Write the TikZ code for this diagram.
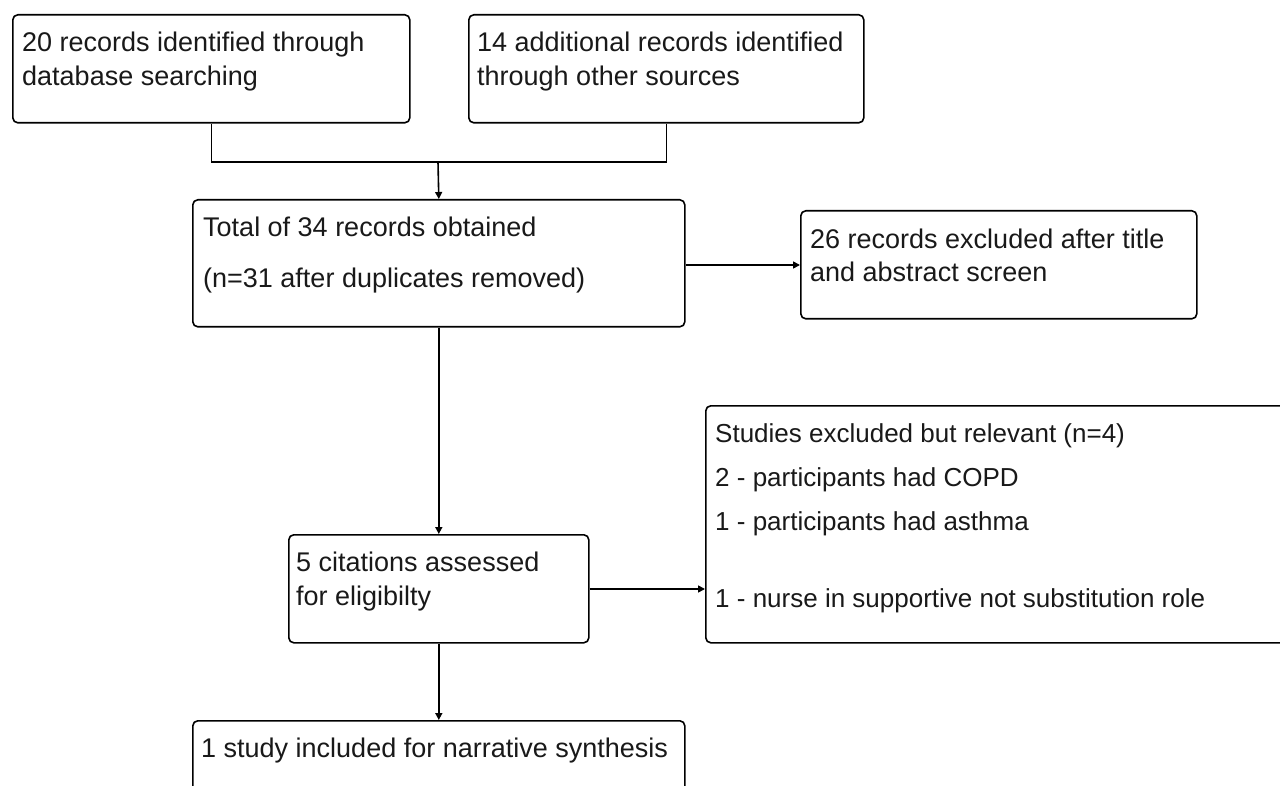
\documentclass[tikz,border=0pt]{standalone}
\usepackage{fontspec}
\setmainfont{Liberation Sans}
\usetikzlibrary{arrows.meta}
\begin{document}
\begin{tikzpicture}[x=1pt,y=-1pt,
  box/.style={draw=black,line width=1.6pt,rounded corners=5pt,inner sep=0pt,anchor=north west},
  txt/.style={anchor=base west,inner sep=0pt,text=black!90,font=\fontsize{27}{32}\selectfont},
  ftxt/.style={anchor=base west,inner sep=0pt,text=black!90,font=\fontsize{26}{32}\selectfont},
  conn/.style={line width=1.6pt},
  arr/.style={conn,-{Triangle[length=7pt,width=7pt]}}]
\useasboundingbox (0,0) rectangle (1280,786);
\clip (0,0) rectangle (1280,786);
\fill[white] (0,0) rectangle (1280,786);
% boxes
\node[box,minimum width=397pt,minimum height=108pt] (A) at (12,14) {};
\node[box,minimum width=395pt,minimum height=108pt] (B) at (468,14) {};
\node[box,minimum width=492pt,minimum height=127pt] (C) at (192,199) {};
\node[box,minimum width=396pt,minimum height=108pt] (D) at (800,210) {};
\node[box,minimum width=300pt,minimum height=108pt] (E) at (288,534) {};
\node[box,minimum width=600pt,minimum height=237pt] (F) at (705,405) {};
\node[box,minimum width=492pt,minimum height=110pt] (G) at (192,720) {};
% texts
\node[txt] (a1) at (22,52) {20 records identified through};
\node[txt] (a2) at (22,86) {database searching};
\node[txt] (b1) at (477,52) {14 additional records identified};
\node[txt] (b2) at (477,86) {through other sources};
\node[txt] (c1) at (203,237) {Total of 34 records obtained};
\node[txt] (c2) at (203,288) {(n=31 after duplicates removed)};
\node[txt] (d1) at (810,249) {26 records excluded after title};
\node[txt] (d2) at (810,282) {and abstract screen};
\node[txt] (e1) at (296,571) {5 citations assessed};
\node[txt] (e2) at (296,605) {for eligibilty};
\node[ftxt] (f1) at (715,442) {Studies excluded but relevant (n=4)};
\node[ftxt] (f2) at (715,486) {2 - participants had COPD};
\node[ftxt] (f3) at (715,530) {1 - participants had asthma};
\node[ftxt] (f4) at (715,607) {1 - nurse in supportive not substitution role};
\node[txt] (g1) at (201,757) {1 study included for narrative synthesis};
% connectors
\coordinate (m) at (438,162);
\draw[conn] (A.south) |- (m) -| (B.south);
\draw[arr] (m) -- (C.north);
\draw[arr] (C.east |- 0,265) -- (D.west |- 0,265);
\draw[arr] (C.south) -- (E.north);
\draw[arr] (E.east |- 0,589) -- (F.west |- 0,589);
\draw[arr] (E.south) -- (G.north);
\end{tikzpicture}
\end{document}
